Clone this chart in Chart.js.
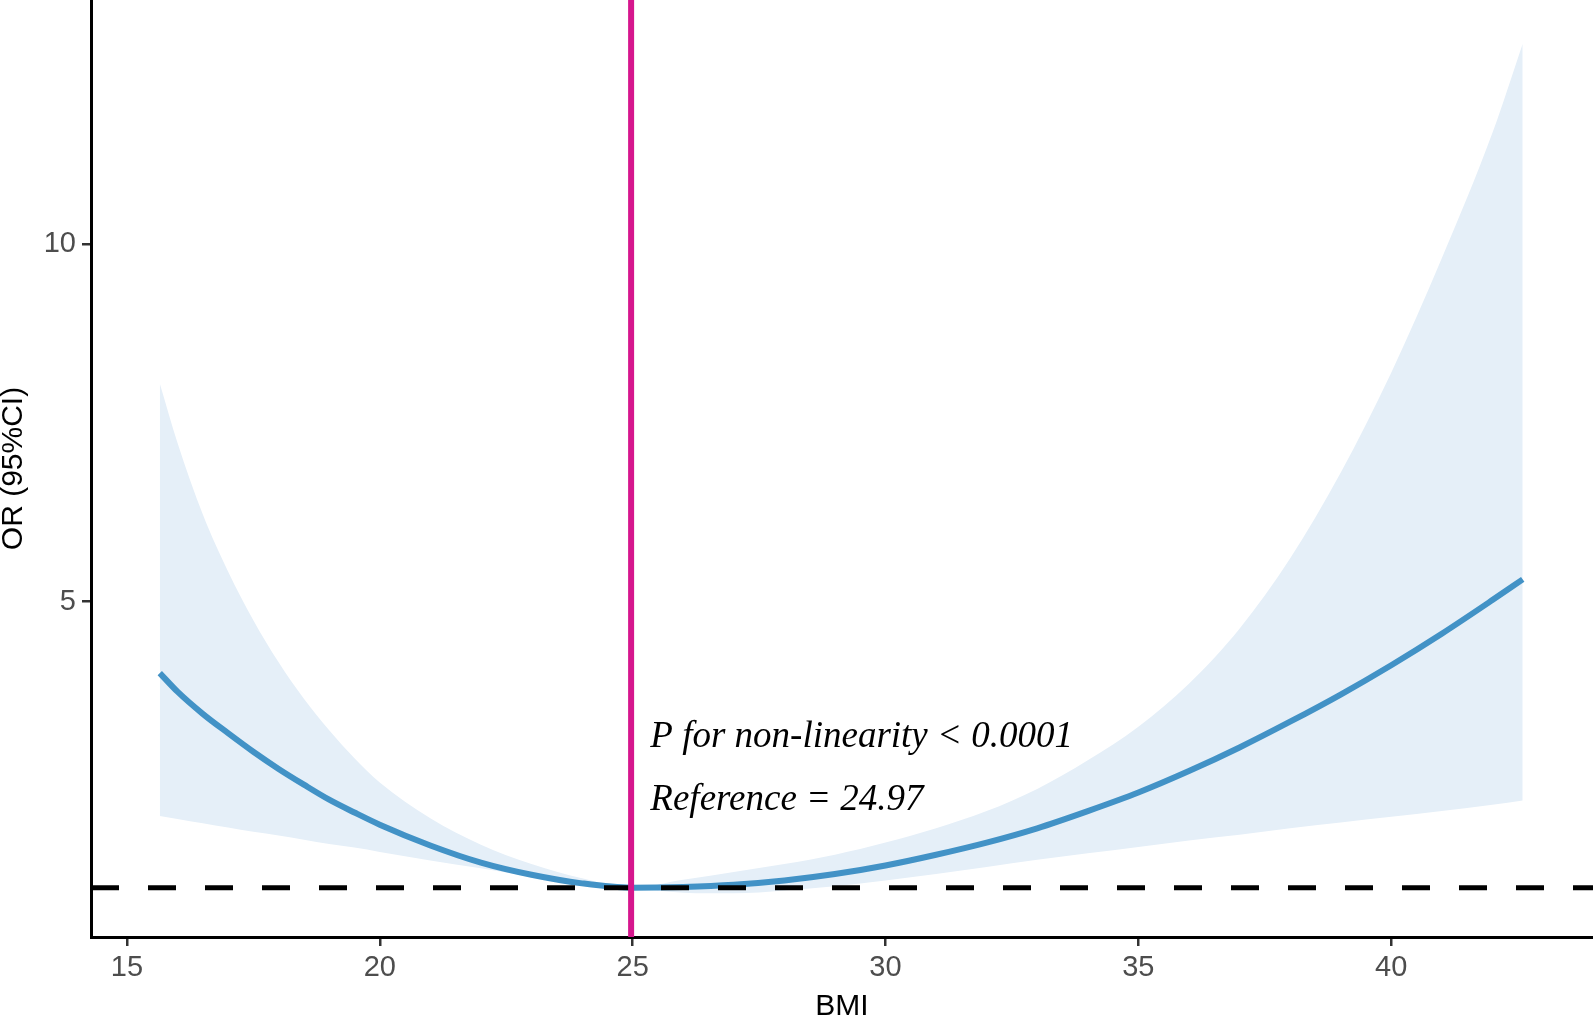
<!DOCTYPE html>
<html><head><meta charset="utf-8">
<script src="https://cdn.jsdelivr.net/npm/chart.js@4"></script>
<style>html,body{margin:0;padding:0;background:#fff}canvas{display:block}</style>
</head><body>
<canvas id="c" width="1593" height="1016"></canvas>
<script>
// ---- data ----
const bmi     = [15.65, 16, 16.5, 17, 17.5, 18, 18.5, 19, 19.5, 20, 21, 22, 23, 24, 24.97, 26, 27, 28, 29, 30, 31, 32, 33, 34, 35, 36, 37, 38, 39, 40, 41, 42, 42.6];
const orFit   = [4.00, 3.74, 3.43, 3.16, 2.90, 2.66, 2.44, 2.23, 2.05, 1.88, 1.59, 1.35, 1.18, 1.06, 1.00, 1.01, 1.04, 1.10, 1.19, 1.31, 1.46, 1.63, 1.83, 2.07, 2.33, 2.63, 2.96, 3.32, 3.70, 4.11, 4.55, 5.02, 5.31];
const orUpper = [8.05, 7.22, 6.22, 5.42, 4.74, 4.15, 3.64, 3.20, 2.81, 2.47, 1.97, 1.60, 1.33, 1.13, 1.00, 1.11, 1.22, 1.33, 1.46, 1.63, 1.83, 2.07, 2.38, 2.78, 3.25, 3.85, 4.62, 5.60, 6.80, 8.20, 9.80, 11.55, 12.80];
const orLower = [2.00, 1.96, 1.90, 1.84, 1.78, 1.73, 1.67, 1.61, 1.56, 1.50, 1.38, 1.27, 1.15, 1.04, 1.00, 0.93, 0.92, 0.96, 1.02, 1.10, 1.19, 1.29, 1.39, 1.48, 1.57, 1.66, 1.74, 1.83, 1.91, 1.99, 2.07, 2.16, 2.22];
const refBMI = 24.97;
const refOR = 1;
const xTicks = [15, 20, 25, 30, 35, 40];
const yTicks = [5, 10];
const annotationLines = ['P for non-linearity < 0.0001', 'Reference = 24.97'];
const annotationY = [2.97, 2.09];
const annotationX = 25.35;
const xTitle = 'BMI';
const yTitle = 'OR (95%CI)';
const xMin = 14.29, xMax = 43.99, yMin = 0.31, yMax = 13.41;

const pts = (ys) => bmi.map((x, i) => ({x: x, y: ys[i]}));

const annotPlugin = {
  id: 'annot',
  afterDatasetsDraw(chart) {
    const {ctx, scales} = chart;
    ctx.save();
    ctx.font = 'italic 37px "Liberation Serif", "Times New Roman", serif';
    ctx.fillStyle = '#000';
    ctx.textAlign = 'left';
    ctx.textBaseline = 'alphabetic';
    annotationLines.forEach((t, i) => {
      ctx.fillText(t, scales.x.getPixelForValue(annotationX), scales.y.getPixelForValue(annotationY[i]));
    });
    ctx.restore();
  }
};

const tickFont = {family: '"Liberation Sans", Arial, sans-serif', size: 29};
const titleFont = {family: '"Liberation Sans", Arial, sans-serif', size: 30, lineHeight: 1};

new Chart(document.getElementById('c'), {
  type: 'line',
  data: {
    datasets: [
      {label: 'ref', data: [{x: refBMI, y: yMin}, {x: refBMI, y: yMax}], borderColor: '#D6168D', borderWidth: 6, pointRadius: 0, fill: false},
      {label: 'one', data: [{x: xMin, y: refOR}, {x: xMax, y: refOR}], borderColor: '#000', borderWidth: 5, borderDash: [28, 29], borderCapStyle: 'butt', pointRadius: 0, fill: false},
      {label: 'fit', data: pts(orFit), borderColor: '#4292C6', borderWidth: 6, pointRadius: 0, fill: false, cubicInterpolationMode: 'monotone'},
      {label: 'upper', data: pts(orUpper), borderWidth: 0, borderColor: 'rgba(0,0,0,0)', backgroundColor: '#E5EFF8', pointRadius: 0, fill: '+1', cubicInterpolationMode: 'monotone'},
      {label: 'lower', data: pts(orLower), borderWidth: 0, borderColor: 'rgba(0,0,0,0)', pointRadius: 0, fill: false, cubicInterpolationMode: 'monotone'}
    ]
  },
  options: {
    responsive: false,
    animation: false,
    events: [],
    layout: {padding: 0},
    plugins: {legend: {display: false}, tooltip: {enabled: false}},
    scales: {
      x: {
        type: 'linear', min: xMin, max: xMax,
        afterBuildTicks: (s) => { s.ticks = xTicks.map(v => ({value: v})); },
        afterFit: (s) => { s.height = 79; s.paddingLeft = 0; s.paddingRight = 0; },
        grid: {display: true, drawOnChartArea: false, drawTicks: true, tickLength: 9, color: '#333333', lineWidth: 2.5},
        border: {display: true, color: '#000', width: 3},
        ticks: {font: tickFont, color: '#4D4D4D', padding: 5, maxRotation: 0, autoSkip: false},
        title: {display: true, text: xTitle, font: titleFont, color: '#000', padding: {top: 0, bottom: -6}}
      },
      y: {
        type: 'linear', min: yMin, max: yMax,
        afterBuildTicks: (s) => { s.ticks = yTicks.map(v => ({value: v})); },
        afterFit: (s) => { s.width = 91; s.paddingTop = 0; s.paddingBottom = 0; },
        grid: {display: true, drawOnChartArea: false, drawTicks: true, tickLength: 9, color: '#333333', lineWidth: 2.5},
        border: {display: true, color: '#000', width: 3},
        ticks: {font: tickFont, color: '#4D4D4D', padding: 6, autoSkip: false},
        title: {display: true, text: yTitle, font: titleFont, color: '#000', padding: {top: -1, bottom: 0}}
      }
    }
  },
  plugins: [annotPlugin]
});
</script>
</body></html>
